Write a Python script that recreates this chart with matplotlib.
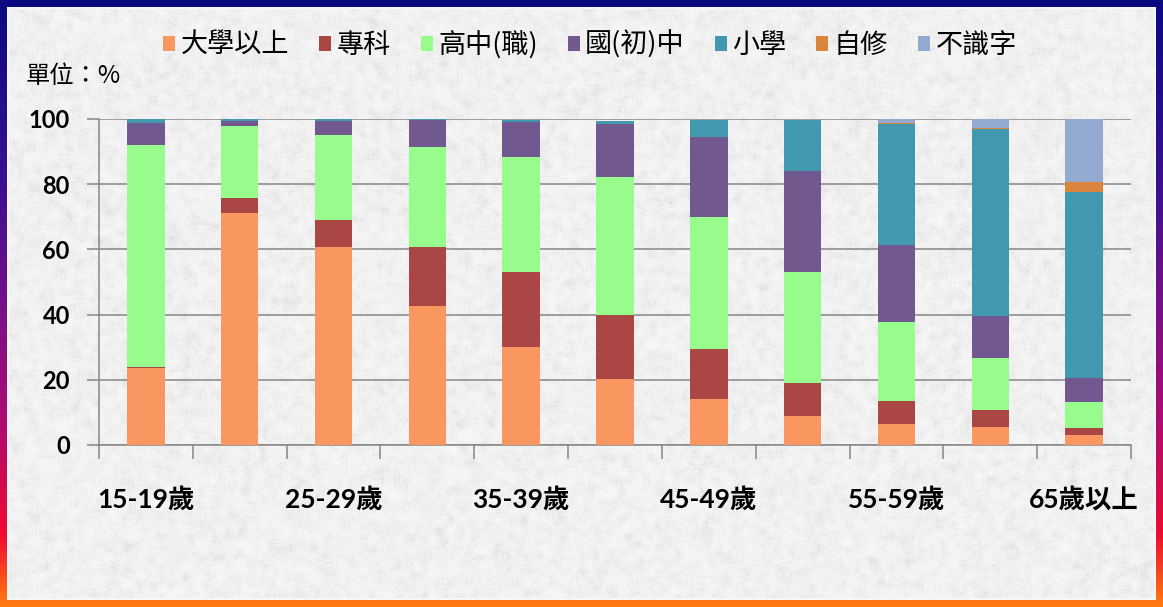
import matplotlib.pyplot as plt
import numpy as np
from matplotlib.colors import LinearSegmentedColormap, to_rgb

# -------------------------------------
# Data (percent of each age group)
# -------------------------------------

AGE_GROUPS = [
    "15-19歲", "20-24歲", "25-29歲", "30-34歲", "35-39歲", "40-44歲",
    "45-49歲", "50-54歲", "55-59歲", "60-64歲", "65歲以上",
]
TICK_LABELS = ["15-19歲", "25-29歲", "35-39歲", "45-49歲", "55-59歲", "65歲以上"]

SERIES_NAMES = ["大學以上", "專科", "高中(職)", "國(初)中", "小學", "自修", "不識字"]

university = [23.5, 71.1, 60.6, 42.6, 30.0, 20.3, 14.0, 9.0, 6.4, 5.6, 3.1]
college = [0.3, 4.6, 8.4, 18.0, 23.0, 19.6, 15.6, 9.9, 7.2, 5.1, 2.0]
senior_high = [68.2, 22.3, 26.1, 30.7, 35.2, 42.2, 40.2, 34.1, 24.0, 15.9, 8.0]
junior_high = [6.8, 1.4, 4.4, 8.4, 10.8, 16.4, 24.8, 31.0, 23.7, 13.0, 7.6]
primary = [1.2, 0.6, 0.5, 0.3, 0.8, 1.0, 5.1, 15.7, 37.2, 57.2, 56.8]
self_taught = [0.0, 0.0, 0.0, 0.0, 0.0, 0.0, 0.0, 0.0, 0.4, 0.4, 3.3]
illiterate = [0.0, 0.0, 0.0, 0.0, 0.0, 0.0, 0.0, 0.0, 1.1, 2.8, 19.2]

COLORS = ["#FA9660", "#AA4643", "#98FC8C", "#71588F", "#4198AF", "#DB843D", "#93A9CF"]

# -------------------------------------
# Background (textured gray + gradient frame)
# -------------------------------------

W, H = 1163, 607
rng = np.random.default_rng(7)
coarse = rng.random((H // 3 + 2, W // 3 + 2))
coarse = np.kron(coarse, np.ones((3, 3)))[:H, :W]
# light box blur so the grain looks blotchy
k = 3
pad = np.pad(coarse, k, mode="edge")
blur = np.zeros_like(coarse)
for dy in range(-k, k + 1, 2):
    for dx in range(-k, k + 1, 2):
        blur += pad[k + dy:k + dy + H, k + dx:k + dx + W]
blur /= ((2 * k) // 2 + 1) ** 2
fine = rng.random((H, W))
gray = 0.975 - 0.16 * np.clip(0.75 * blur + 0.25 * fine, 0, 1) ** 2.5
img = np.dstack([gray, gray, gray])

frame_cmap = LinearSegmentedColormap.from_list(
    "frame",
    [(0.0, "#0a0a80"), (0.3, "#3a1090"), (0.5, "#761088"),
     (0.7, "#b00c70"), (0.88, "#ee0a30"), (1.0, "#ff7a10")],
)
row_colors = frame_cmap(np.linspace(0, 1, H))[:, :3]
bw = 7
mask = np.zeros((H, W), dtype=bool)
mask[:bw, :] = True
mask[-bw:, :] = True
mask[:, :bw] = True
mask[:, -bw:] = True
full = np.repeat(row_colors[:, None, :], W, axis=1)
img[mask] = full[mask]
# thin light line just inside the frame
inner = np.zeros((H, W), dtype=bool)
inner[bw:bw + 2, bw:-bw] = True
inner[-bw - 2:-bw, bw:-bw] = True
inner[bw:-bw, bw:bw + 2] = True
inner[bw:-bw, -bw - 2:-bw] = True
img[inner] = to_rgb("#f4f8fb")

# -------------------------------------
# Plotting
# -------------------------------------

plt.rcParams["font.family"] = ["Noto Sans CJK TC", "DejaVu Sans"]

fig = plt.figure(figsize=(W / 100, H / 100), dpi=100)
bg = fig.add_axes([0, 0, 1, 1], zorder=-1)
bg.imshow(img, aspect="auto", interpolation="nearest")
bg.axis("off")

ax = fig.add_axes([99 / W, 1 - 445 / H, (1131 - 99) / W, (445 - 119) / H])
ax.set_facecolor("none")

x = np.arange(len(AGE_GROUPS))
series = [university, college, senior_high, junior_high, primary, self_taught, illiterate]
bottom = np.zeros(len(AGE_GROUPS))
for name, values, color in zip(SERIES_NAMES, series, COLORS):
    ax.bar(x, values, bottom=bottom, width=0.4, color=color, label=name, zorder=3)
    bottom += np.array(values)

ax.set_xlim(-0.5, len(AGE_GROUPS) - 0.5)
ax.set_ylim(0, 100)
ax.set_yticks(np.arange(0, 101, 20))
ax.grid(axis="y", color="#868686", linewidth=1.1, zorder=1)
for side in ["top", "right"]:
    ax.spines[side].set_visible(False)
for side in ["left", "bottom"]:
    ax.spines[side].set_color("#868686")
    ax.spines[side].set_linewidth(1.1)

ax.set_xticks(x[::2])
ax.set_xticklabels(TICK_LABELS)
ax.set_xticks(np.arange(-0.5, len(AGE_GROUPS), 1), minor=True)
ax.tick_params(axis="x", which="major", length=0, pad=30)
ax.tick_params(axis="x", which="minor", length=10, color="#868686", width=1.1)
ax.tick_params(axis="y", length=9, color="#868686", width=1.1, pad=12)

for label in ax.get_xticklabels():
    label.set_fontfamily(["Lato", "Noto Sans CJK TC"])
    label.set_fontweight("bold")
    label.set_fontsize(19)
for label in ax.get_yticklabels():
    label.set_fontfamily(["Lato", "DejaVu Sans"])
    label.set_fontweight("bold")
    label.set_fontsize(17)

fig.text(26 / W, 1 - 76 / H, "單位：%", fontsize=17.5, va="center", ha="left")

fig.legend(
    loc="center",
    bbox_to_anchor=(590 / W, 1 - 45 / H),
    ncol=7,
    frameon=False,
    fontsize=19.5,
    handlelength=0.45,
    handleheight=0.45,
    handletextpad=0.2,
    columnspacing=1.1,
)

plt.savefig("out.png", dpi=100)
